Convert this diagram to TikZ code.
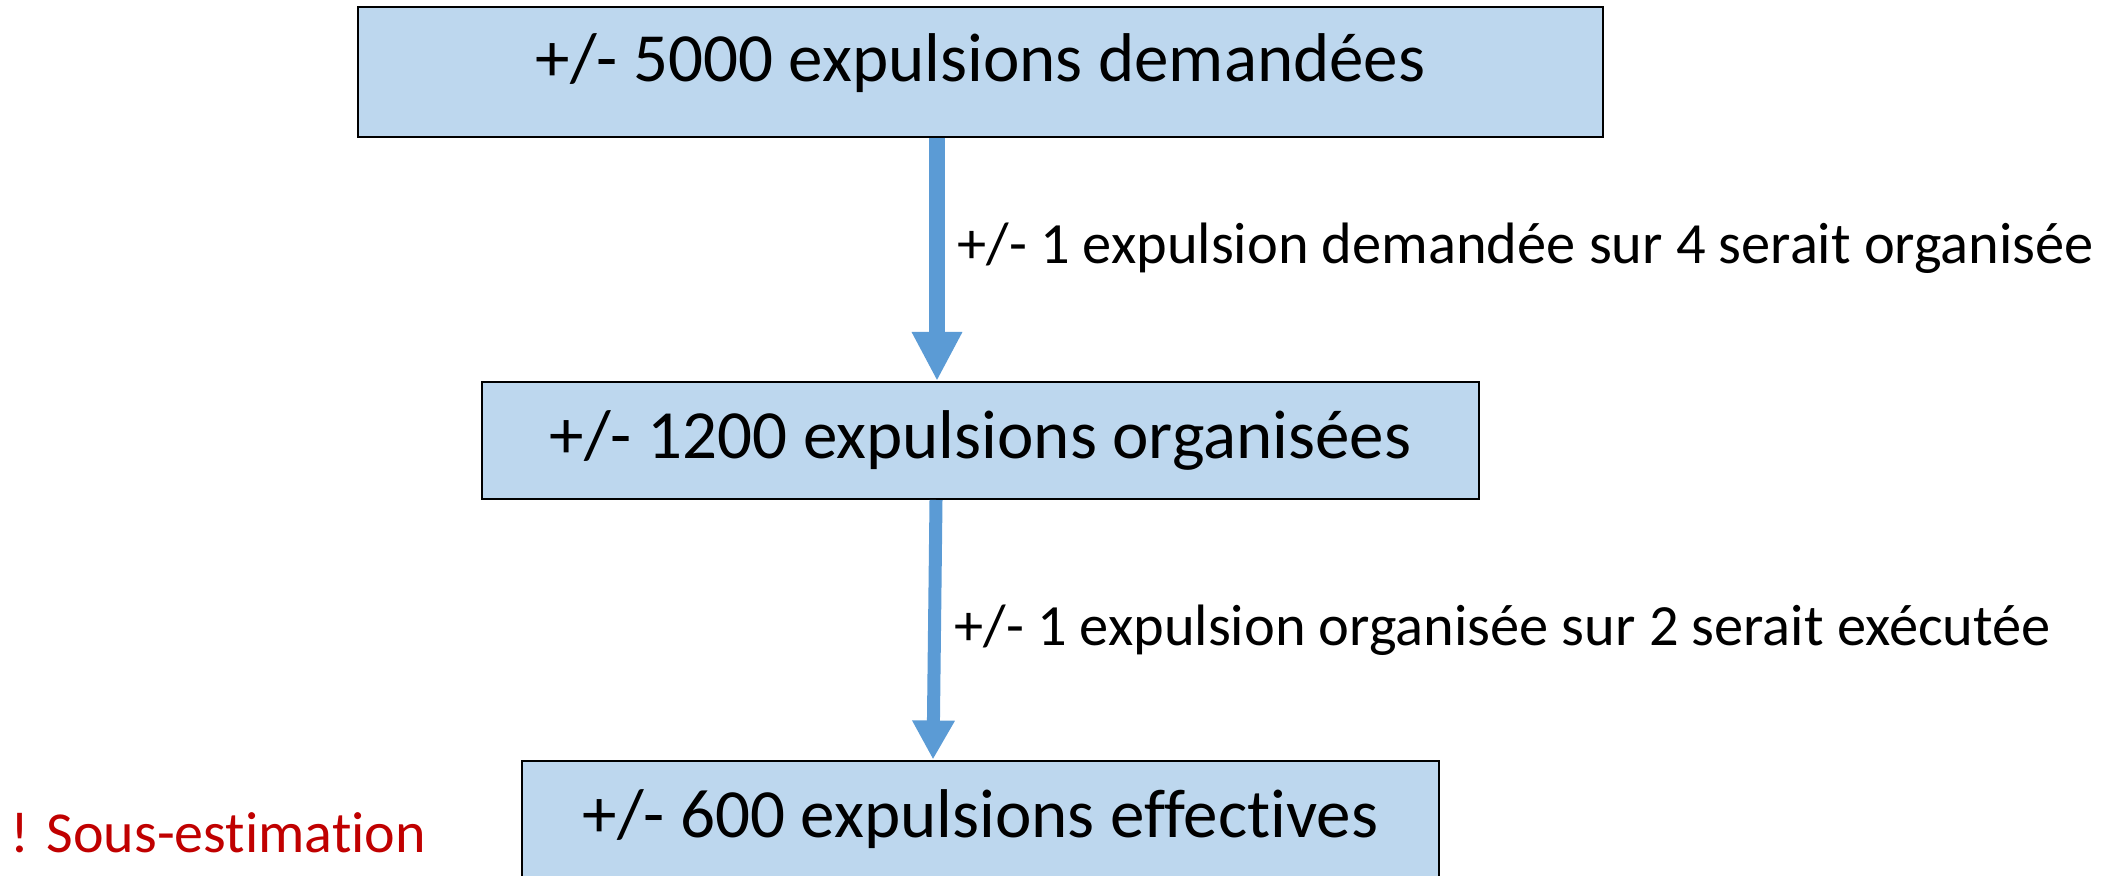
\documentclass[tikz,border=0pt]{standalone}
\usepackage{fontspec}
\setmainfont{Carlito}[Ligatures=NoCommon]
\usetikzlibrary{arrows.meta, calc, positioning}
\definecolor{boxblue}{HTML}{BDD7EE}
\definecolor{arrowblue}{HTML}{5B9BD5}
\definecolor{warnred}{HTML}{C00000}
\tikzset{
  stage/.style  = {draw=black, line width=1pt, fill=boxblue, minimum height=58.5pt,
                   inner sep=0pt, font=\fontsize{34.5}{40}\selectfont},
  flow/.style   = {arrowblue, line width=8pt, -{Triangle[width=23.5pt, length=24.5pt]}},
  flowthin/.style = {arrowblue, line width=6.5pt, -{Triangle[width=20pt, length=19.5pt]}},
  ratio/.style  = {anchor=west, inner sep=0pt, font=\fontsize{29.2}{34}\selectfont},
  warn/.style   = {anchor=west, inner sep=0pt, text=warnred, font=\fontsize{29}{34}\selectfont},
}

\begin{document}
\begin{tikzpicture}[x=0.5pt, y=-0.5pt]
  \useasboundingbox (0,0) rectangle (2125,876);
  % the three stages
  \node[stage, minimum width=622.5pt, minimum height=65pt, text depth=14pt] (demande) at (980.5,72) {+/- 5000 expulsions demandées};
  \node[stage, minimum width=498.5pt] (organise) at (980.5,440.5) {+/- 1200 expulsions organisées};
  \node[stage, minimum width=458.5pt] (effectif) at (980.5,819) {+/- 600 expulsions effectives};
  % arrows between stages
  \draw[flow] ([xshift=-21.75pt]demande.south) -- ([xshift=-21.75pt]organise.north);
  \draw[flowthin] ([xshift=-22.25pt]organise.south) -- ([xshift=-23.75pt]effectif.north);
  \node[ratio] (r1) at (957,248) {+/- 1 expulsion demandée sur 4 serait organisée};
  \node[ratio] (r2) at (954,630) {+/- 1 expulsion organisée sur 2 serait exécutée};
  \node[warn] (sous) at (10,833) {! Sous-estimation};
\end{tikzpicture}
\end{document}
